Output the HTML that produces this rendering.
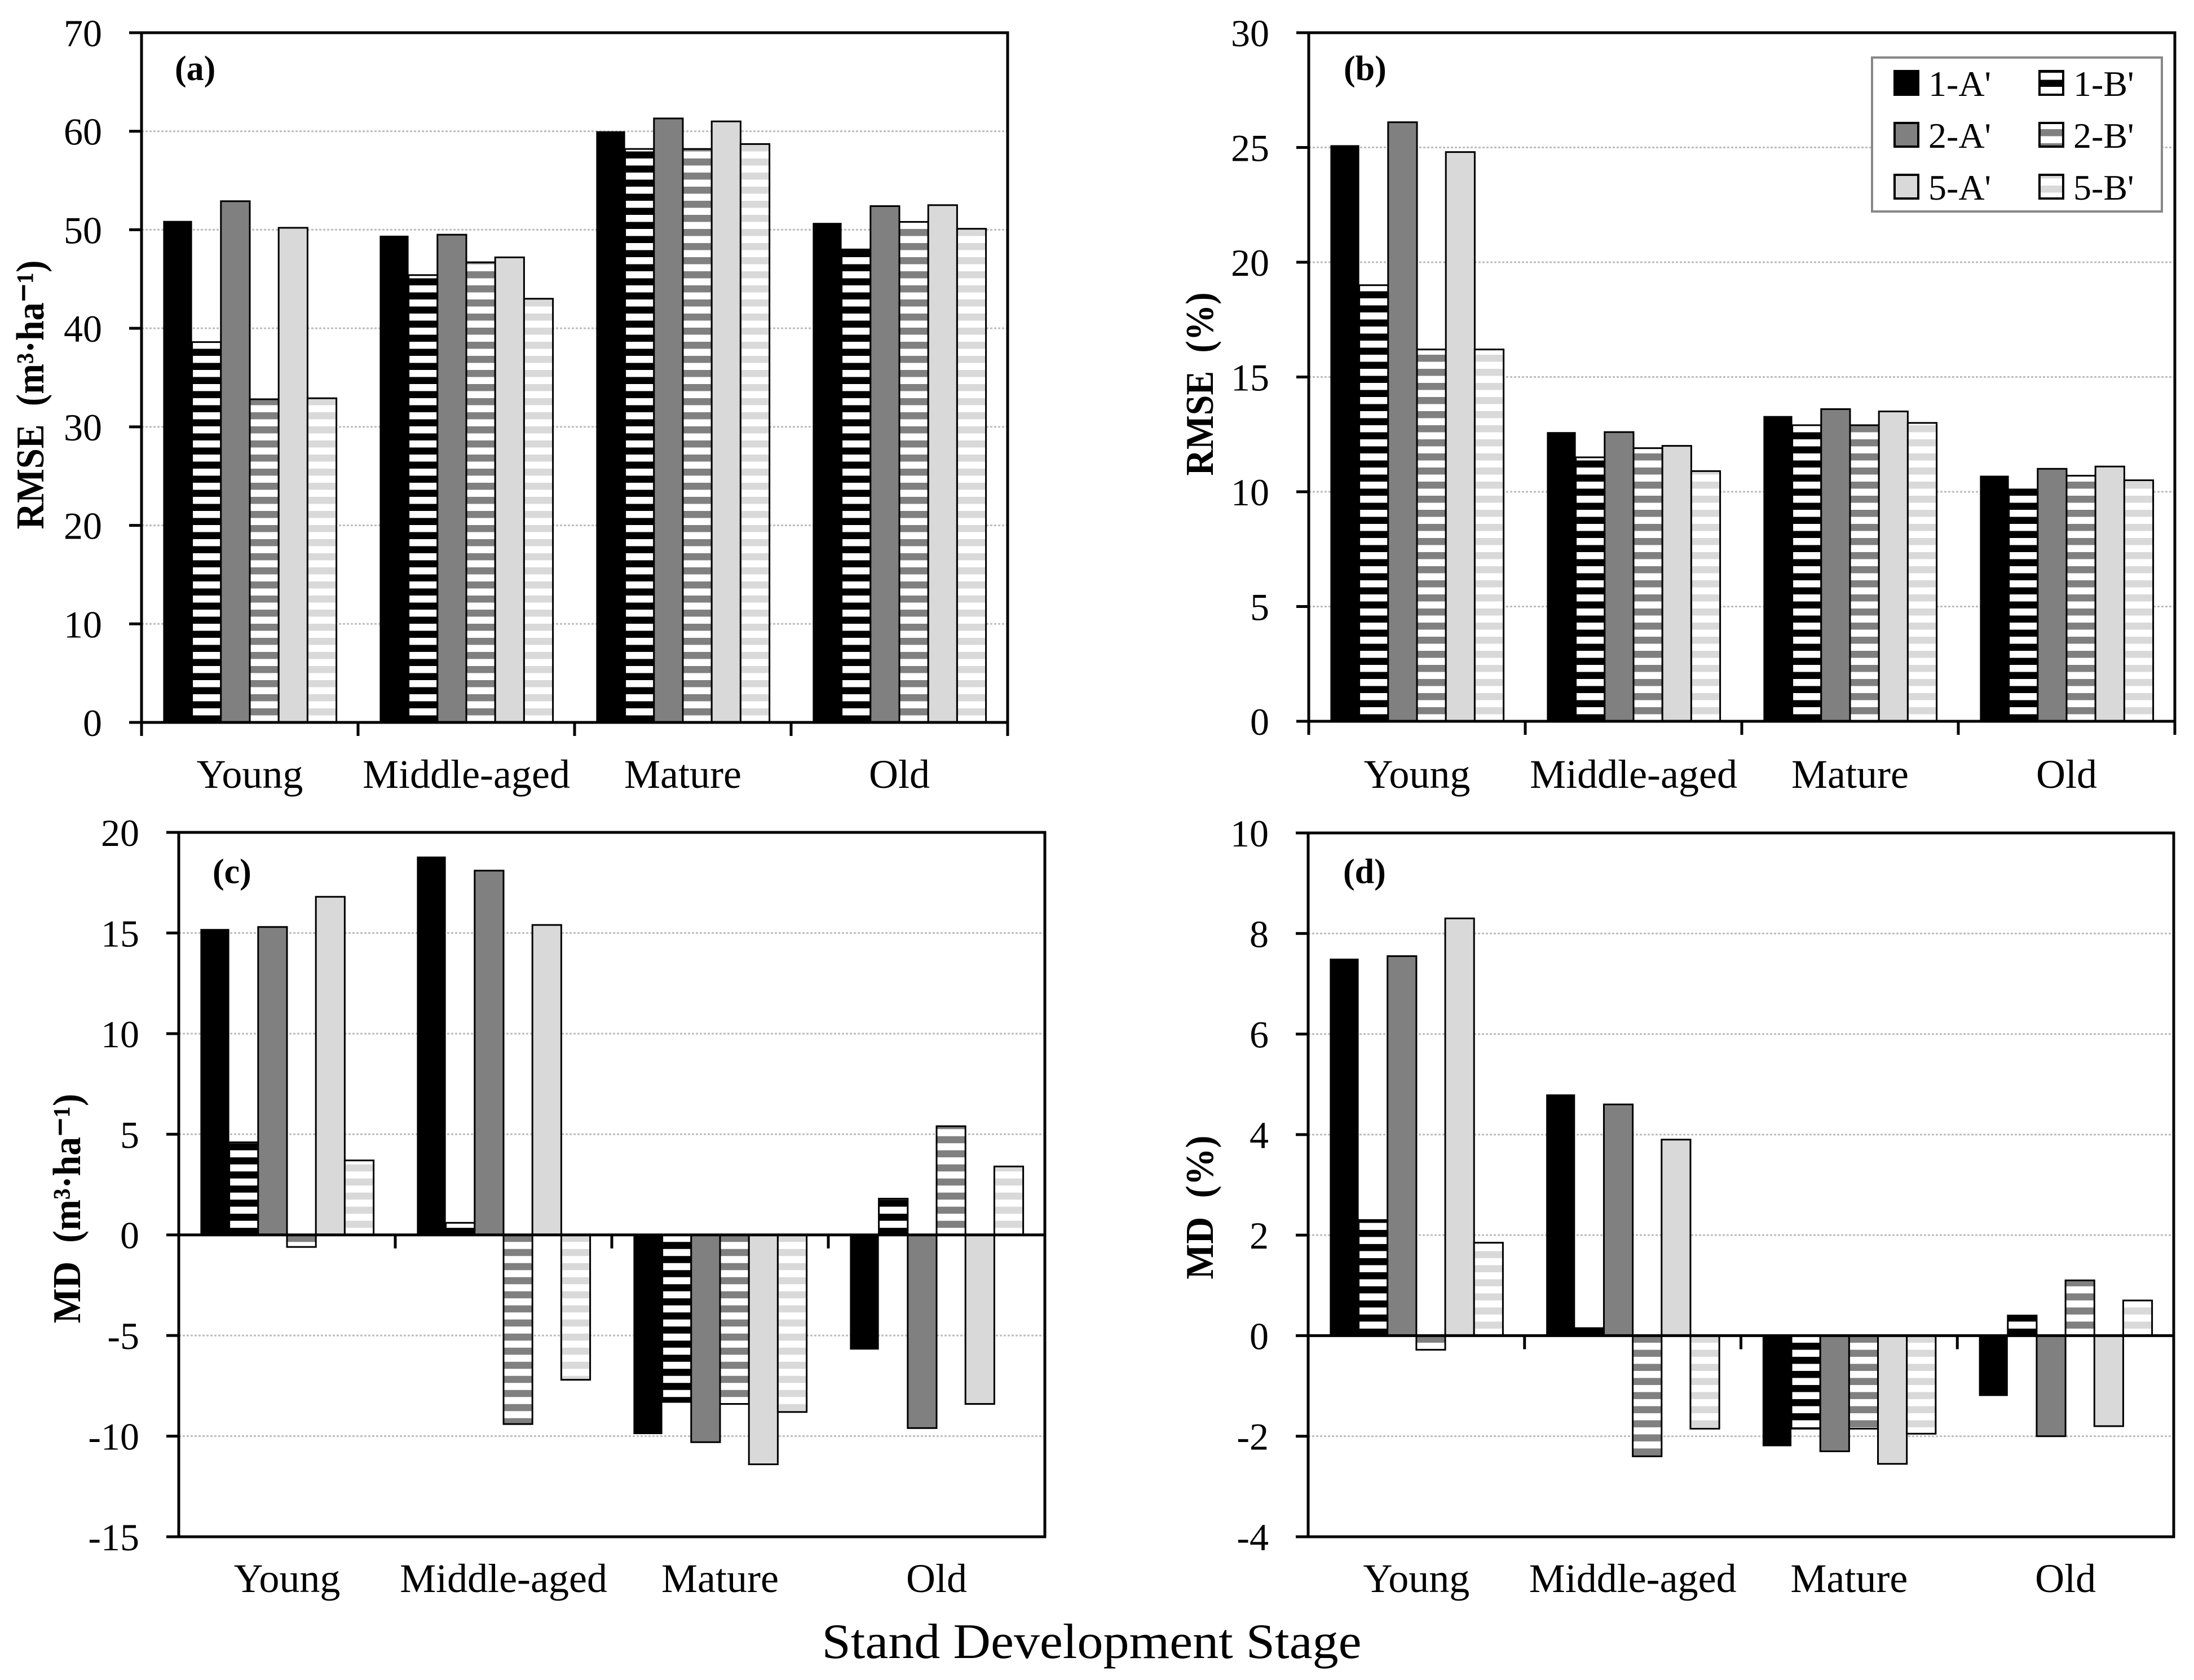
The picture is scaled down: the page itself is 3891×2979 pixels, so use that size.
<!DOCTYPE html>
<html><head><meta charset="utf-8"><style>
html,body{margin:0;padding:0;background:#fff;}
svg{display:block;}
text{font-family:"Liberation Serif",serif;fill:#000;}
</style></head><body>
<svg id="fig" xmlns="http://www.w3.org/2000/svg" width="3891" height="2979" viewBox="0 0 3891 2979">
<rect x="0" y="0" width="3891" height="2979" fill="#fff"/>
<defs id="defs"></defs>
<g id="root"></g>
</svg>
<script>
const categories = ["Young", "Middle-aged", "Mature", "Old"];
const seriesNames = ["1-A'", "1-B'", "2-A'", "2-B'", "5-A'", "5-B'"];
// (a) RMSE m3/ha
const rmseVol_1A = [50.9, 49.4, 60.0, 50.7];
const rmseVol_1B = [38.6, 45.4, 58.2, 48.0];
const rmseVol_2A = [52.9, 49.5, 61.3, 52.4];
const rmseVol_2B = [32.8, 46.7, 58.2, 50.8];
const rmseVol_5A = [50.2, 47.2, 61.0, 52.5];
const rmseVol_5B = [32.9, 43.0, 58.7, 50.1];
// (b) RMSE %
const rmsePct_1A = [25.1, 12.6, 13.3, 10.7];
const rmsePct_1B = [19.0, 11.5, 12.9, 10.1];
const rmsePct_2A = [26.1, 12.6, 13.6, 11.0];
const rmsePct_2B = [16.2, 11.9, 12.9, 10.7];
const rmsePct_5A = [24.8, 12.0, 13.5, 11.1];
const rmsePct_5B = [16.2, 10.9, 13.0, 10.5];
// (c) MD m3/ha
const mdVol_1A = [15.2, 18.8, -9.9, -5.7];
const mdVol_1B = [4.6, 0.6, -8.3, 1.8];
const mdVol_2A = [15.3, 18.1, -10.3, -9.6];
const mdVol_2B = [-0.6, -9.4, -8.4, 5.4];
const mdVol_5A = [16.8, 15.4, -11.4, -8.4];
const mdVol_5B = [3.7, -7.2, -8.8, 3.4];
// (d) MD %
const mdPct_1A = [7.5, 4.8, -2.2, -1.2];
const mdPct_1B = [2.3, 0.15, -1.85, 0.4];
const mdPct_2A = [7.55, 4.6, -2.3, -2.0];
const mdPct_2B = [-0.28, -2.4, -1.85, 1.1];
const mdPct_5A = [8.3, 3.9, -2.55, -1.8];
const mdPct_5B = [1.85, -1.85, -1.95, 0.7];
// ticks
const ticksA = [0, 10, 20, 30, 40, 50, 60, 70];
const ticksB = [0, 5, 10, 15, 20, 25, 30];
const ticksC = [-15, -10, -5, 0, 5, 10, 15, 20];
const ticksD = [-4, -2, 0, 2, 4, 6, 8, 10];

const NS = "http://www.w3.org/2000/svg";
const root = document.getElementById("root");
const defs = document.getElementById("defs");
function el(tag, attrs, parent) {
  const e = document.createElementNS(NS, tag);
  for (const k in attrs) e.setAttribute(k, attrs[k]);
  (parent || root).appendChild(e);
  return e;
}
const fills = ["#000000", "url(#p1B_ID)", "#808080", "url(#p2B_ID)", "#d9d9d9", "url(#p5B_ID)"];
const strokes = ["none", "#000", "#000", "#000", "#000", "#000"];

function makePatterns(id, y0) {
  const specs = [["p1B_", "#000", "#fff"], ["p2B_", "#fff", "#808080"], ["p5B_", "#fff", "#d9d9d9"]];
  specs.forEach(s => {
    const p = el("pattern", {id: s[0] + id, patternUnits: "userSpaceOnUse", x: 0, y: y0, width: 100, height: 25}, defs);
    el("rect", {x: 0, y: 0, width: 100, height: 25, fill: s[1]}, p);
    el("rect", {x: 0, y: 0, width: 100, height: 12.5, fill: s[2]}, p);
  });
}

function panel(cfg) {
  const g = el("g", {});
  
  
  const {x0, x1, yTop, yBot, vMin, vMax} = cfg;
  const yS = v => yBot - (v - vMin) / (vMax - vMin) * (yBot - yTop);
  const catW = (x1 - x0) / categories.length;
  const y0 = yS(0);
  makePatterns(cfg.id, y0);
  cfg.ticks.forEach(t => {
    if (t === vMin || t === vMax || t === 0) return;
    const gl = el("line", {x1: x0, x2: x1, y1: yS(t), y2: yS(t), stroke: "#bdbdbd", "stroke-width": 3, "stroke-dasharray": "4,3"}, g);
    
    
  });
  cfg.series.forEach((arr, si) => {
    arr.forEach((v, ci) => {
      const bw = catW * 0.8 / 6;
      const bx = x0 + ci * catW + catW * 0.1 + si * bw;
      const yv = yS(v);
      const r = el("rect", {x: bx, y: Math.min(yv, y0), width: bw, height: Math.abs(y0 - yv),
        fill: fills[si].replace("ID", cfg.id), stroke: strokes[si], "stroke-width": 3}, g);
      
      
    });
  });
  const box = el("rect", {x: x0, y: yTop, width: x1 - x0, height: yBot - yTop, fill: "none", stroke: "#000", "stroke-width": 5}, g);
  
  
  if (vMin < 0) {
    const zl = el("line", {x1: x0, x2: x1, y1: y0, y2: y0, stroke: "#000", "stroke-width": 5}, g);
    
    
  }
  cfg.ticks.forEach(t => {
    el("line", {x1: x0 - 22, x2: x0, y1: yS(t), y2: yS(t), stroke: "#000", "stroke-width": 5}, g);
    const tl = el("text", {x: x0 - 70, y: yS(t) + 24, "text-anchor": "end", "font-size": 68}, g);
    tl.textContent = t;
    
    
  });
  for (let i = 0; i <= categories.length; i++) {
    const cx = x0 + i * catW;
    if (vMin < 0 && (i === 0 || i === categories.length)) continue;
    el("line", {x1: cx, x2: cx, y1: y0, y2: y0 + 24, stroke: "#000", "stroke-width": 5}, g);
  }
  categories.forEach((c, i) => {
    const t = el("text", {x: x0 + (i + 0.5) * catW, y: cfg.catY, "text-anchor": "middle", "font-size": 72}, g);
    t.textContent = c;
    
    
  });
  const pl = el("text", {x: cfg.lx, y: cfg.ly, "font-size": 62, "font-weight": "bold"}, g);
  pl.textContent = cfg.label;
  
  
  const yt = el("text", {transform: `translate(${cfg.tx},${cfg.ty}) rotate(-90)`, x: 0, y: 24, "text-anchor": "middle",
    "font-size": 70, "font-weight": "bold", textLength: cfg.tlen, lengthAdjust: "spacingAndGlyphs"}, g);
  yt.textContent = cfg.title;
  
  
}

panel({id: "a", name: "panel-a-rmse-volume", x0: 251, x1: 1787, yTop: 58, yBot: 1281, vMin: 0, vMax: 70, ticks: ticksA,
  series: [rmseVol_1A, rmseVol_1B, rmseVol_2A, rmseVol_2B, rmseVol_5A, rmseVol_5B], catY: 1397,
  lx: 310, ly: 142, label: "(a)", tx: 53, ty: 700, tlen: 477, title: "RMSE\u00A0\u00A0(m³·ha⁻¹)"});
panel({id: "b", name: "panel-b-rmse-percent", x0: 2321, x1: 3857, yTop: 58, yBot: 1279, vMin: 0, vMax: 30, ticks: ticksB,
  series: [rmsePct_1A, rmsePct_1B, rmsePct_2A, rmsePct_2B, rmsePct_5A, rmsePct_5B], catY: 1397,
  lx: 2383, ly: 142, label: "(b)", tx: 2127, ty: 681, tlen: 325, title: "RMSE\u00A0\u00A0(%)"});
panel({id: "c", name: "panel-c-md-volume", x0: 317, x1: 1853, yTop: 1476, yBot: 2725, vMin: -15, vMax: 20, ticks: ticksC,
  series: [mdVol_1A, mdVol_1B, mdVol_2A, mdVol_2B, mdVol_5A, mdVol_5B], catY: 2823,
  lx: 377, ly: 1566, label: "(c)", tx: 118, ty: 2143, tlen: 407, title: "MD\u00A0\u00A0(m³·ha⁻¹)"});
panel({id: "d", name: "panel-d-md-percent", x0: 2320, x1: 3855, yTop: 1477, yBot: 2725, vMin: -4, vMax: 10, ticks: ticksD,
  series: [mdPct_1A, mdPct_1B, mdPct_2A, mdPct_2B, mdPct_5A, mdPct_5B], catY: 2823,
  lx: 2382, ly: 1566, label: "(d)", tx: 2127, ty: 2141, tlen: 255, title: "MD\u00A0\u00A0(%)"});

const lg = el("g", {});


el("rect", {x: 3320, y: 102, width: 514, height: 273, fill: "#fff", stroke: "#888", "stroke-width": 4}, lg);
const legX = [3360, 3617];
const legY = [147, 239, 331];
seriesNames.forEach((n, i) => {
  const col = i % 2, row = Math.floor(i / 2);
  const sw = el("rect", {x: legX[col], y: legY[row] - 21, width: 42, height: 42,
    fill: fills[i].replace("ID", "b"), stroke: "#000", "stroke-width": 4}, lg);
  
  
  const t = el("text", {x: legX[col] + 60, y: legY[row] + 23, "font-size": 64}, lg);
  t.textContent = n;
  
  
});

const xt = el("text", {x: 1936, y: 2940, "text-anchor": "middle", "font-size": 88, textLength: 957, lengthAdjust: "spacingAndGlyphs"});
xt.textContent = "Stand Development Stage";


</script>
</body></html>
